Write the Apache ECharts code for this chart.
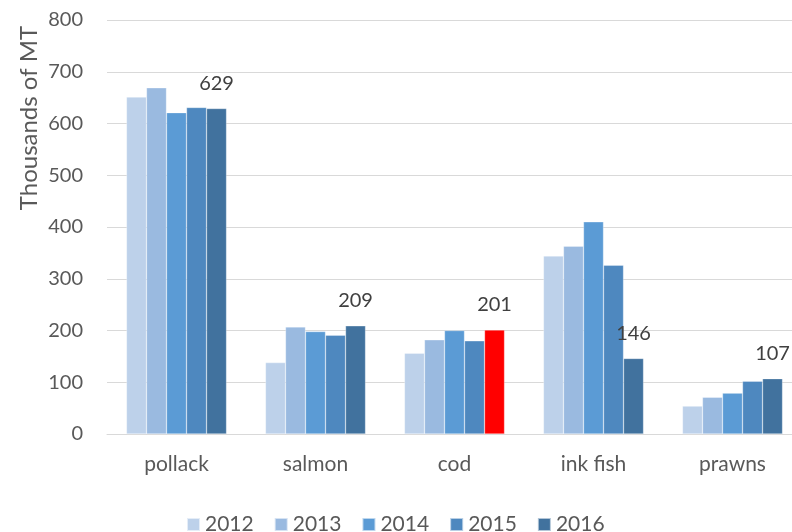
<!DOCTYPE html>
<html><head><meta charset="utf-8">
<script src="https://cdn.jsdelivr.net/npm/echarts@6/dist/echarts.min.js"></script>
<style>html,body{margin:0;padding:0;background:#fff}#c{width:792px;height:532px}</style>
</head><body><div id="c"></div>
<script>
const categories = ['pollack', 'salmon', 'cod', 'ink fish', 'prawns'];
const years = ['2012', '2013', '2014', '2015', '2016'];
const v2012 = [651, 138, 156, 344, 54];
const v2013 = [669, 207, 182, 363, 71];
const v2014 = [621, 198, 200, 410, 79];
const v2015 = [631, 191, 180, 326, 102];
const v2016 = [629, 209, 201, 146, 107];
const yTicks = [0, 100, 200, 300, 400, 500, 600, 700, 800];
const highlightIndex = 2; // cod 2016 shown in red

const colors = ['#BDD1EA', '#9ABAE0', '#5B9BD5', '#4E88BF', '#41729E'];
const font = 'Lato, "Open Sans", sans-serif';
const allVals = [v2012, v2013, v2014, v2015, v2016];

const series = years.map((y, i) => {
  const s = {
    name: y, type: 'bar', barGap: '0%', barCategoryGap: '28%',
    itemStyle: { color: colors[i], borderColor: 'rgba(255,255,255,0.6)', borderWidth: 0.5 },
    data: allVals[i].map((v, j) => {
      if (i === 4 && j === highlightIndex) return { value: v, itemStyle: { color: '#FF0000' } };
      return v;
    })
  };
  if (i === 4) {
    s.label = { show: true, position: 'top', distance: 15, fontSize: 20, color: '#404040', fontFamily: font };
  }
  return s;
});

const chart = echarts.init(document.getElementById('c'));
chart.setOption({
  animation: false,
  color: colors,
  grid: { left: 107, top: 20, width: 695, bottom: 98, containLabel: false, outerBoundsMode: 'none' },
  xAxis: {
    type: 'category', data: categories,
    axisLine: { lineStyle: { color: '#D9D9D9', width: 1 } },
    axisTick: { show: false },
    axisLabel: { fontSize: 21, color: '#595959', fontFamily: font, margin: 20 }
  },
  yAxis: {
    type: 'value', min: yTicks[0], max: yTicks[yTicks.length - 1], interval: 100,
    axisLine: { show: false }, axisTick: { show: false },
    splitLine: { lineStyle: { color: '#D9D9D9', width: 1 } },
    axisLabel: { fontSize: 20, color: '#595959', fontFamily: font, margin: 24 }
  },
  legend: {
    data: years, top: 509, left: 181,
    itemWidth: 13, itemHeight: 13, itemGap: 20,
    icon: 'rect',
    textStyle: { fontSize: 21, color: '#595959', fontFamily: font }
  },
  graphic: [{
    type: 'text', x: 29, y: 118, rotation: Math.PI / 2,
    style: { text: 'Thousands of MT', fontSize: 24, fill: '#595959', fontFamily: font, textAlign: 'center', textVerticalAlign: 'middle' }
  }],
  series: series
});
</script></body></html>
